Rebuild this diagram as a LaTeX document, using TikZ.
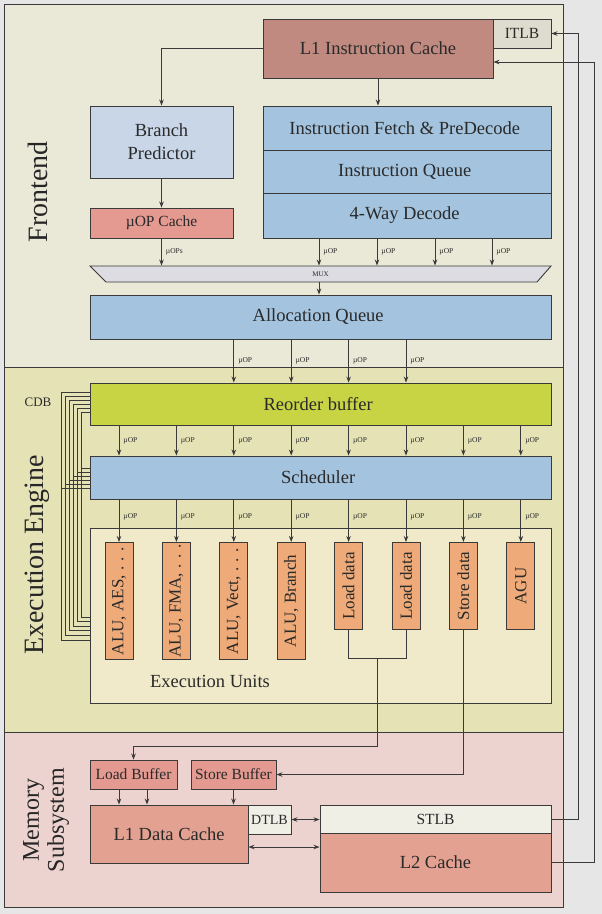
\documentclass[tikz,border=0pt]{standalone}
\usepackage{fontspec}
\setmainfont{Liberation Serif}
\usetikzlibrary{arrows.meta}

\definecolor{pagecol}{HTML}{E6E6E6}
\definecolor{fecol}{HTML}{EAE8D6}
\definecolor{eecol}{HTML}{E5E3B5}
\definecolor{mscol}{HTML}{EDD3CF}
\definecolor{l1col}{HTML}{C08A80}
\definecolor{itlbcol}{HTML}{DEDCCE}
\definecolor{bpcol}{HTML}{C8D6E8}
\definecolor{bluecol}{HTML}{A3C3DE}
\definecolor{cachecol}{HTML}{E49A90}
\definecolor{muxcol}{HTML}{DCDCE2}
\definecolor{robcol}{HTML}{C8D444}
\definecolor{eubgcol}{HTML}{F0E9CA}
\definecolor{eucol}{HTML}{EEAA78}
\definecolor{l2col}{HTML}{E3A191}
\definecolor{tlbcol}{HTML}{EFEFE6}
\definecolor{linecol}{HTML}{3A3A3A}
\definecolor{txtcol}{HTML}{2A2A2A}

\begin{document}
\begin{tikzpicture}[x=1pt, y=-1pt
	, color=linecol
	, line width=0.9pt
	, >={Stealth[length=6pt, width=4.5pt]}
	, every node/.style={
		rectangle
		, inner sep=0pt
		, text=txtcol
		, font=\fontsize{18.5}{23}\selectfont
	}
	, blk/.style={draw=linecol, align=center}
	, small/.style={font=\fontsize{15.5}{18}\selectfont}
	, uop/.style={font=\fontsize{7.5}{8}\selectfont, anchor=west, xshift=4pt}
	, unit/.style={blk, fill=eucol, minimum width=28pt, font=\fontsize{17}{20}\selectfont}
	, sect/.style={rotate=90, align=center, text=black!85, font=\fontsize{28}{30}\selectfont}
]

\fill[pagecol] (0,0) rectangle (602,914);
\useasboundingbox (0,0) rectangle (602,914);

% regions
\draw[fill=fecol] (4,4) rectangle (563,367);
\draw[fill=eecol] (4,367) rectangle (563,732);
\draw[fill=mscol] (4,732) rectangle (563,907);

\node[sect] (felabel) at (38,192) {Frontend};
\node[sect] (eelabel) at (37,555) {Execution Engine};
\node[sect, font=\fontsize{24}{25}\selectfont] (mslabel) at (46,820) {Memory\\Subsystem};

% frontend
\node[blk, fill=itlbcol, minimum width=58pt, minimum height=29pt, small] (itlb) at (522,33.5) {ITLB};
\node[blk, fill=l1col, minimum width=230pt, minimum height=59pt] (l1i) at (378,48.5) {L1 Instruction Cache};
\node[blk, fill=bpcol, minimum width=143pt, minimum height=72pt] (bp) at (161.5,142) {Branch\\Predictor};
\node[blk, fill=cachecol, minimum width=143pt, minimum height=30pt, small] (uopc) at (161.5,223) {µOP Cache};
\foreach \y/\h/\name [count=\i] in {
	128/44/Instruction Fetch \& PreDecode
	, 171.5/43/Instruction Queue
	, 215.5/45/4-Way Decode
}{
	\node[blk, fill=bluecol, minimum width=288pt, minimum height=\h pt] (fd\i) at (407,\y) {\name};
}

\draw[fill=muxcol] (90,266) -- (551,266) -- (537,282) -- (106,282) -- cycle;
\node[minimum width=461pt, minimum height=16pt, font=\fontsize{7}{8}\selectfont] (mux) at (320.5,274) {MUX};

\foreach \y/\h/\col/\nm/\name in {
	317/44/bluecol/aq/Allocation Queue
	, 404/42/robcol/rob/Reorder buffer
	, 477.5/43/bluecol/sch/Scheduler
}{
	\node[blk, fill=\col, minimum width=461pt, minimum height=\h pt] (\nm) at (320.5,\y) {\name};
}

% execution units
\node[blk, fill=eubgcol, minimum width=461pt, minimum height=175pt] (eu) at (320.5,615.5) {};
\node (eulabel) at (210,681) {Execution Units};
\foreach \name/\h [count=\i] in {
	{ALU, AES, . . .}/117
	, {ALU, FMA, . . .}/117
	, {ALU, Vect, . . .}/117
	, {ALU, Branch}/117
	, Load data/87
	, Load data/87
	, Store data/87
	, AGU/87
}{
	\pgfmathsetmacro\ux{119+57.4*(\i-1)}
	\node[unit, minimum height=\h pt, anchor=north] (u\i) at (\ux,542) {\rotatebox{90}{\name}};
}

% memory
\node[blk, fill=cachecol, minimum width=87pt, minimum height=29pt, small] (lbuf) at (133.5,774.5) {Load Buffer};
\node[blk, fill=cachecol, minimum width=85pt, minimum height=29pt, small] (sbuf) at (233.5,774.5) {Store Buffer};
\node[blk, fill=tlbcol, minimum width=43pt, minimum height=29pt, font=\fontsize{14}{16}\selectfont] (dtlb) at (269.5,819.5) {DTLB};
\node[blk, fill=l2col, minimum width=158pt, minimum height=58pt] (l1d) at (169,834) {L1 Data Cache};
\node[blk, fill=tlbcol, minimum width=231pt, minimum height=28pt, small] (stlb) at (435.5,819) {STLB};
\node[blk, fill=l2col, minimum width=231pt, minimum height=59pt] (l2) at (435.5,862.5) {L2 Cache};

% connections
\draw[->] (l1i.west) -| (bp.north);
\draw[->] (l1i.south) -- (l1i.south |- fd1.north);
\draw[->] (bp.south) -- (uopc.north);
\draw[->] (uopc.south) -- (uopc.south |- mux.north) node[midway, uop]{µOPs};
\foreach \x in {319,377,435,492}{
	\draw[->] (fd3.south -| \x,0) -- (\x,0 |- mux.north) node[midway, uop]{µOP};
}
\draw[->] (mux.south -| 319,0) -- (319,0 |- aq.north);
\foreach \i in {3,...,6}{
	\draw[->] (aq.south -| u\i) -- (rob.north -| u\i) node[midway, uop]{µOP};
}
\foreach \i in {1,...,8}{
	\draw[->] (rob.south -| u\i) -- (sch.north -| u\i) node[midway, uop]{µOP};
	\draw[->] (sch.south -| u\i) -- (u\i.north) node[pos=0.4, uop]{µOP};
}

% CDB
\node[font=\fontsize{13}{15}\selectfont] (cdb) at (38,402) {CDB};
\foreach \i in {0,...,5}{
	\draw[line width=0.7pt] ([yshift={-10pt-4pt*\i}]rob.north west) -| (61+4*\i,640-4.6*\i) -- (eu.west |- 0,640-4.6*\i);
	\draw[line width=0.7pt] (61+4*\i,488-4*\i) -- (sch.west |- 0,488-4*\i);
}

\coordinate (ldj) at (377,658);
\draw (u5.south) |- (ldj) -| (u6.south);
\draw[->] (ldj) |- ([yshift=13pt]lbuf.north) -- (lbuf.north);
\draw[->] (u7.south) |- (sbuf.east);

\foreach \dx in {-14.5,13.5}{
	\draw[->] ([xshift=\dx pt]lbuf.south) -- ([xshift=\dx pt]lbuf.south |- l1d.north);
}
\draw[->] (sbuf.south) -- (sbuf.south |- l1d.north);
\draw[<->] (dtlb.east) -- (dtlb.east -| stlb.west);
\draw[<->] ([yshift=-13pt]l1d.east) -- ([yshift=-13pt]l1d.east -| l2.west);
\draw[->] (stlb.east) -- ++(27,0) |- (itlb.east);
\draw[->] (l2.east) -- ++(43,0) |- ([yshift=-13.5pt]l1i.east);

\end{tikzpicture}
\end{document}
